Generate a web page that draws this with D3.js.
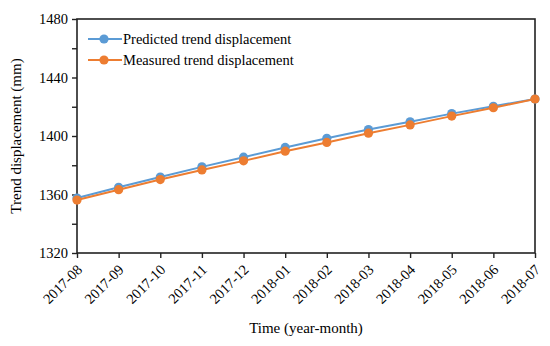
<!DOCTYPE html>
<html>
<head>
<meta charset="utf-8">
<script src="https://cdn.jsdelivr.net/npm/d3@7"></script>
<style>
  body { margin: 0; background: #fff; }
  text { font-family: "Liberation Serif", "Times New Roman", serif; fill: #000; }
</style>
</head>
<body>
<svg id="chart" width="550" height="346"></svg>
<script>
const months = ['2017-08', '2017-09', '2017-10', '2017-11', '2017-12', '2018-01',
  '2018-02', '2018-03', '2018-04', '2018-05', '2018-06', '2018-07'];
const predicted = [1357.6, 1364.9, 1371.9, 1378.9, 1385.5, 1392.2, 1398.4, 1404.4, 1409.7, 1415.3, 1420.3, 1425.3];
const measured = [1356.2, 1363.3, 1370.2, 1376.8, 1383.0, 1389.6, 1395.6, 1401.9, 1407.6, 1413.6, 1419.3, 1425.3];
const yTicks = [1320, 1360, 1400, 1440, 1480];
const yMinor = d3.range(1320, 1481, 20);

const series = [
  {name: 'Predicted trend displacement', values: predicted, color: '#5B9BD5'},
  {name: 'Measured trend displacement', values: measured, color: '#ED7D31'}
];

const margin = {top: 19, right: 15, bottom: 93, left: 77};
const width = 550 - margin.left - margin.right;
const height = 346 - margin.top - margin.bottom;

const svg = d3.select('#chart');
const g = svg.append('g').attr('transform', `translate(${margin.left},${margin.top})`);

const x = d3.scalePoint().domain(months).range([0, width]);
const y = d3.scaleLinear().domain([1320, 1480]).range([height, 0]);

// frame
g.append('rect')
  .attr('width', width).attr('height', height)
  .attr('fill', 'none').attr('stroke', '#222').attr('stroke-width', 1.6);

// y axis: minor ticks every 20, labels every 40
const yAxis = g.append('g')
  .call(d3.axisLeft(y).tickValues(yMinor).tickSize(5)
    .tickFormat(d => yTicks.includes(d) ? d : ''));
yAxis.select('.domain').remove();
yAxis.selectAll('line').attr('stroke', '#222').attr('stroke-width', 1.4);
yAxis.selectAll('text').attr('font-size', 14.5).attr('x', -9);

// x axis
const xAxis = g.append('g').attr('transform', `translate(0,${height})`)
  .call(d3.axisBottom(x).tickSize(5));
xAxis.select('.domain').remove();
xAxis.selectAll('line').attr('stroke', '#222').attr('stroke-width', 1.4);
xAxis.selectAll('text')
  .attr('font-size', 14.5)
  .attr('text-anchor', 'end')
  .attr('dy', '0.35em')
  .attr('transform', 'translate(2,14) rotate(-45)')
  .attr('x', 0).attr('y', 0);

// axis titles
svg.append('text')
  .attr('x', margin.left + width / 2).attr('y', 333)
  .attr('text-anchor', 'middle').attr('font-size', 15)
  .text('Time (year-month)');
svg.append('text')
  .attr('transform', `translate(21,${margin.top + height / 2}) rotate(-90)`)
  .attr('text-anchor', 'middle').attr('font-size', 15)
  .text('Trend displacement (mm)');

// series
const line = d3.line().x((d, i) => x(months[i])).y(d => y(d));
series.forEach(s => {
  g.append('path').datum(s.values)
    .attr('d', line).attr('fill', 'none')
    .attr('stroke', s.color).attr('stroke-width', 2);
  g.selectAll(null).data(s.values).enter().append('circle')
    .attr('cx', (d, i) => x(months[i])).attr('cy', d => y(d))
    .attr('r', 4.6).attr('fill', s.color);
});

// legend
const legend = g.append('g').attr('transform', 'translate(11,20)');
series.forEach((s, i) => {
  const row = legend.append('g').attr('transform', `translate(0,${i * 21})`);
  row.append('line').attr('x1', 0).attr('x2', 34)
    .attr('stroke', s.color).attr('stroke-width', 2);
  row.append('circle').attr('cx', 16).attr('r', 4.6).attr('fill', s.color);
  row.append('text').attr('x', 35).attr('dy', '0.35em')
    .attr('font-size', 14.5).text(s.name);
});
</script>
</body>
</html>
